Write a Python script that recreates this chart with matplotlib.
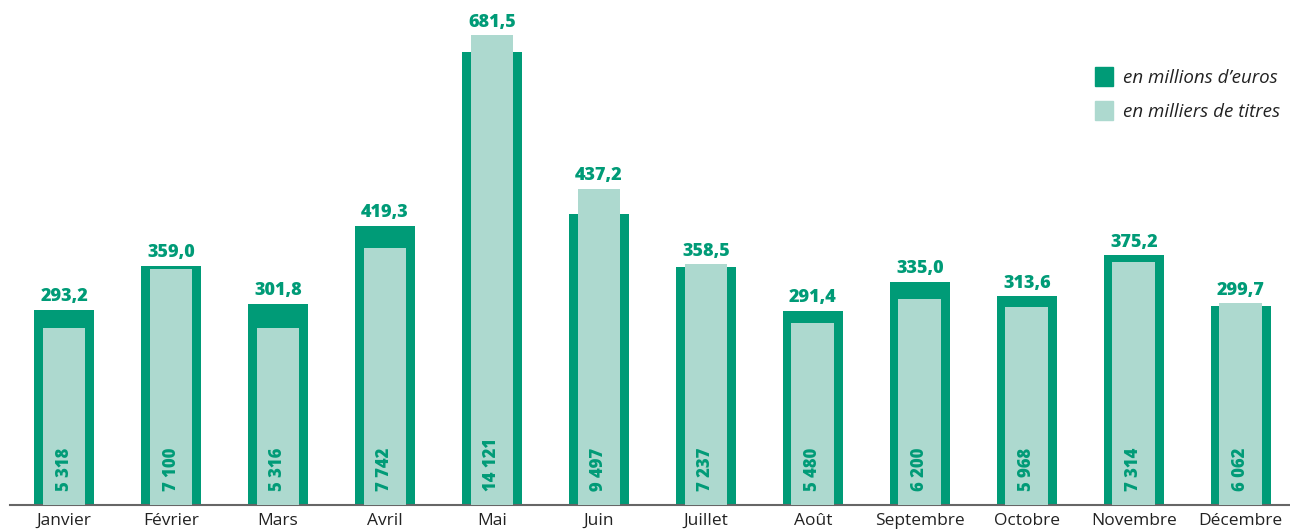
import matplotlib
matplotlib.use("Agg")
import matplotlib.pyplot as plt
from matplotlib.patches import Patch

months = ["Janvier", "Février", "Mars", "Avril", "Mai", "Juin", "Juillet",
          "Août", "Septembre", "Octobre", "Novembre", "Décembre"]
euros = [293.2, 359.0, 301.8, 419.3, 681.5, 437.2, 358.5, 291.4, 335.0, 313.6, 375.2, 299.7]
titres = [5318, 7100, 5316, 7742, 14121, 9497, 7237, 5480, 6200, 5968, 7314, 6062]
euro_labels = ["293,2", "359,0", "301,8", "419,3", "681,5", "437,2", "358,5",
               "291,4", "335,0", "313,6", "375,2", "299,7"]
titre_labels = ["5 318", "7 100", "5 316", "7 742", "14 121", "9 497", "7 237",
                "5 480", "6 200", "5 968", "7 314", "6 062"]

DARK = "#009B77"
LIGHT = "#ADD9CF"
TEXT = "#222222"
plt.rcParams["font.family"] = ["Open Sans", "DejaVu Sans"]

fig = plt.figure(figsize=(12.9, 5.31), dpi=100)
ax = fig.add_axes([10/1290, 26/531, 1280/1290, 505/531])

x = list(range(len(months)))
scale = 1/20.0  # titres displayed on the euro scale
titres_scaled = [t*scale for t in titres]

ax.bar(x, euros, width=0.56, color=DARK, zorder=2)
ax.bar(x, titres_scaled, width=0.40, color=LIGHT, zorder=3)

for i in x:
    top = max(euros[i], titres_scaled[i])
    ax.annotate(euro_labels[i], (i, top), xytext=(0, 3.5), textcoords="offset points",
                ha="center", va="bottom", color=DARK, fontsize=13, fontweight="heavy")
    ax.text(i, 21, titre_labels[i], rotation=90, ha="center", va="bottom",
            color=DARK, fontsize=12, fontweight="heavy", zorder=4)

ax.set_xlim(-0.505, 11.46)
ax.set_ylim(0, 505/0.665)
ax.set_xticks(x)
ax.set_xticklabels(months, fontsize=12.5, color=TEXT, fontweight="medium")
ax.tick_params(axis="x", length=0, pad=6)
ax.set_yticks([])
for s in ["left", "right", "top"]:
    ax.spines[s].set_visible(False)
ax.spines["bottom"].set_color("#666666")
ax.spines["bottom"].set_linewidth(1.5)

handles = [Patch(color=DARK, label="en millions d\u2019euros"),
           Patch(color=LIGHT, label="en milliers de titres")]
leg = ax.legend(handles=handles, loc="upper left", bbox_to_anchor=(1068/1280, 1 - 50/505),
                frameon=False, handlelength=0.95, handleheight=1.2, handletextpad=0.55,
                labelspacing=0.75, prop={"style": "italic", "size": 13.5})
for t in leg.get_texts():
    t.set_color(TEXT)

fig.savefig("out.png", dpi=100)
